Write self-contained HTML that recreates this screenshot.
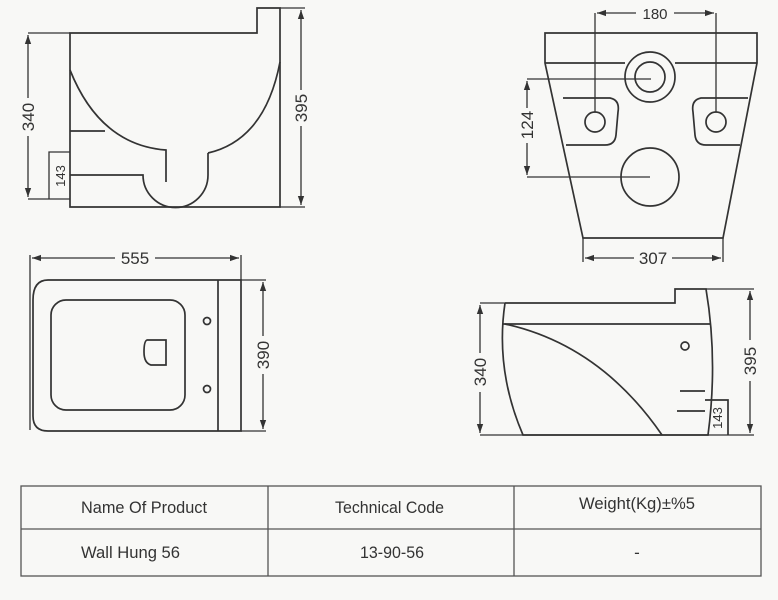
<!DOCTYPE html>
<html><head><meta charset="utf-8"><style>
html,body{margin:0;padding:0;background:#f8f8f6;}
svg{display:block}
text{font-family:"Liberation Sans",sans-serif;fill:#333}
</style></head><body>
<svg width="778" height="600" viewBox="0 0 778 600" xmlns="http://www.w3.org/2000/svg">
<defs>
<marker id="a" viewBox="0 0 10 10" refX="10" refY="5" markerWidth="9" markerHeight="9" orient="auto-start-reverse" markerUnits="userSpaceOnUse"><path d="M0,1.5 L10,5 L0,8.5z" fill="#333"/></marker>
</defs>
<rect width="778" height="600" fill="#f8f8f6"/>
<g fill="none" stroke="#333" stroke-width="1.7">
<path d="M70,207 V33 H257 V8 H280 V207 Z"/>
<path d="M70,70 Q100,145 166,150 V182"/>
<path d="M280,62 Q265,140 208,153"/>
<path d="M70,175 H143 A32.5,32.5 0 0 0 208,175 V153"/>
<path d="M70,131 H105"/>
<g stroke-width="1.3">
<path d="M280,8 H305 M280,207 H305 M28,33 H70 M28,199 H70"/>
<path d="M49,199 V152 H70"/>
<path d="M301,10 V90 M301,126 V205" marker-start="url(#a)" marker-end="url(#a)"/>
<path d="M28,35 V98 M28,136 V197" marker-start="url(#a)" marker-end="url(#a)"/>
</g>
<path d="M545,33 H757 V63 L723,238 H583 L545,63 Z"/>
<path d="M545,63 H625 M675,63 H757"/>
<circle cx="650" cy="77" r="25"/><circle cx="650" cy="77" r="15"/>
<circle cx="650" cy="177" r="29"/>
<path d="M563,98 H610 Q620,100 618,112 L616,135 Q615,145 605,145 H566"/>
<path d="M748,98 H701 Q691,100 693,112 L695,135 Q696,145 706,145 H740"/>
<circle cx="595" cy="122" r="10"/><circle cx="716" cy="122" r="10"/>
<g stroke-width="1.3">
<path d="M595,13 V112 M716,13 V112"/>
<path d="M597,13 H636 M674,13 H714" marker-start="url(#a)" marker-end="url(#a)"/>
<path d="M527,79 H651 M527,177 H650"/>
<path d="M527,81 V108 M527,143 V175" marker-start="url(#a)" marker-end="url(#a)"/>
<path d="M583,238 V262 M723,238 V262"/>
<path d="M585,258 H634 M672,258 H721" marker-start="url(#a)" marker-end="url(#a)"/>
</g>
<path d="M48,280 H241 V431 H48 Q33,431 33,416 V300 Q33,280 48,280 Z"/>
<path d="M218,280 V431"/>
<rect x="51" y="300" width="134" height="110" rx="15"/>
<path d="M147,340 H166 V365 H151 Q144,363 144,352 Q144,341 147,340 Z"/>
<circle cx="207" cy="321" r="3.5"/><circle cx="207" cy="389" r="3.5"/>
<g stroke-width="1.3">
<path d="M30,255 V430 M241,255 V280 M241,280 H266 M241,431 H266"/>
<path d="M32,258 H115 M155,258 H239" marker-start="url(#a)" marker-end="url(#a)"/>
<path d="M263,282 V336 M263,374 V429" marker-start="url(#a)" marker-end="url(#a)"/>
</g>
<path d="M505,303 H675 V289 H706 Q718,360 708,435 H523 Q495,370 505,303"/>
<path d="M503,324 H710"/>
<path d="M505,324 Q600,345 662,435"/>
<circle cx="685" cy="346" r="4"/>
<path d="M680,391 H705 M677,411 H705"/>
<path d="M705,400 H728 V435"/>
<g stroke-width="1.3">
<path d="M480,303 H505 M480,435 H754 M706,289 H754"/>
<path d="M480,305 V353 M480,392 V433" marker-start="url(#a)" marker-end="url(#a)"/>
<path d="M750,291 V340 M750,381 V433" marker-start="url(#a)" marker-end="url(#a)"/>
</g>
<g stroke="#555" stroke-width="1.3">
<rect x="21" y="486" width="740" height="90"/>
<path d="M21,529 H761 M268,486 V576 M514,486 V576"/>
</g>
</g>
<g font-size="17">
<text x="301" y="108" text-anchor="middle" transform="rotate(-90 301 108)" dy="6">395</text>
<text x="28" y="117" text-anchor="middle" transform="rotate(-90 28 117)" dy="6">340</text>
<text x="655" y="19" text-anchor="middle" font-size="15">180</text>
<text x="527" y="125" text-anchor="middle" transform="rotate(-90 527 125)" dy="6">124</text>
<text x="653" y="264" text-anchor="middle">307</text>
<text x="135" y="264" text-anchor="middle">555</text>
<text x="263" y="355" text-anchor="middle" transform="rotate(-90 263 355)" dy="6">390</text>
<text x="480" y="372" text-anchor="middle" transform="rotate(-90 480 372)" dy="6">340</text>
<text x="750" y="361" text-anchor="middle" transform="rotate(-90 750 361)" dy="6">395</text>
</g>
<g font-size="13">
<text x="60" y="176" text-anchor="middle" transform="rotate(-90 60 176)" dy="5">143</text>
<text x="717" y="418" text-anchor="middle" transform="rotate(-90 717 418)" dy="5">143</text>
</g>
<g font-size="17">
<text x="81" y="513" textLength="126" lengthAdjust="spacingAndGlyphs">Name Of Product</text>
<text x="335" y="513" textLength="109" lengthAdjust="spacingAndGlyphs">Technical Code</text>
<text x="579" y="509" textLength="116" lengthAdjust="spacingAndGlyphs">Weight(Kg)±%5</text>
<text x="81" y="558" textLength="99" lengthAdjust="spacingAndGlyphs">Wall Hung 56</text>
<text x="360" y="558" textLength="64" lengthAdjust="spacingAndGlyphs">13-90-56</text>
<text x="637" y="558" text-anchor="middle">-</text>
</g>
</svg>
</body></html>
